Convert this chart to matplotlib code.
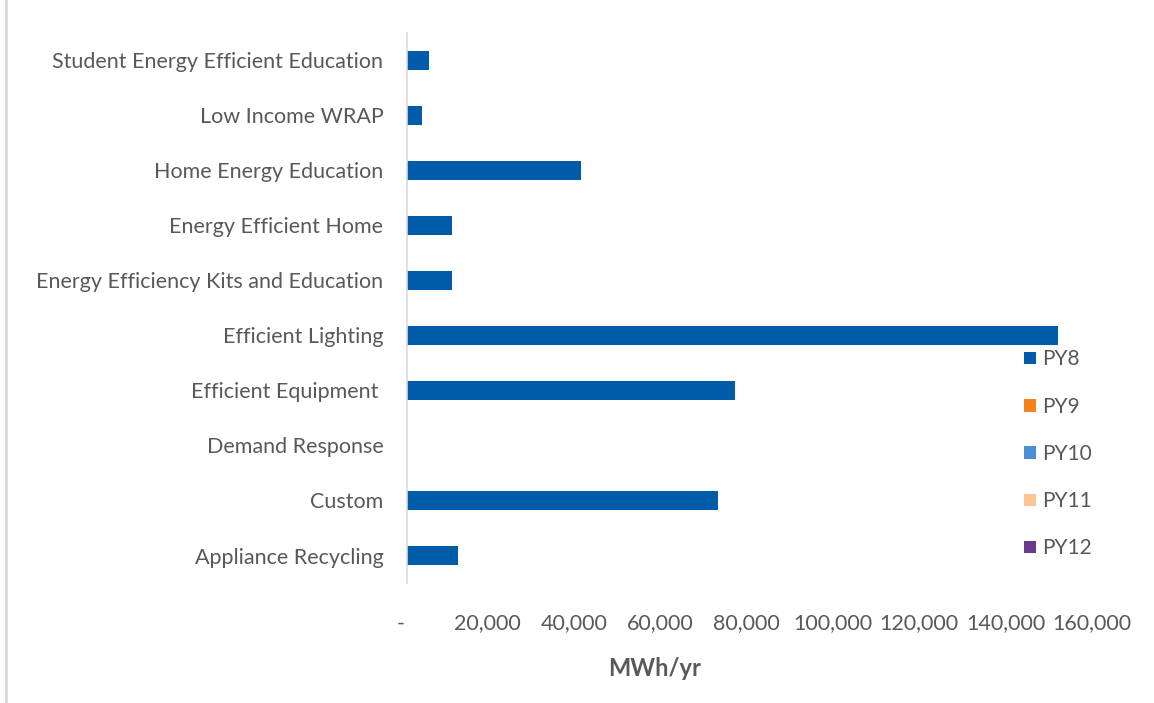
import numpy as np
import matplotlib
matplotlib.use("Agg")
import matplotlib.pyplot as plt
import matplotlib.transforms as mtransforms
from matplotlib.ticker import FuncFormatter

# programs, listed bottom to top as on the chart
programs = ["Appliance Recycling", "Custom", "Demand Response", "Efficient Equipment ",
            "Efficient Lighting", "Energy Efficiency Kits and Education",
            "Energy Efficient Home", "Home Energy Education", "Low Income WRAP",
            "Student Energy Efficient Education"]
series = ["PY8", "PY9", "PY10", "PY11", "PY12"]
py8 = [11900, 71900, 0, 76000, 150700, 10450, 10450, 40400, 3400, 5150]
py9 = [0] * 10
py10 = [0] * 10
py11 = [0] * 10
py12 = [0] * 10
colors = ["#005ca9", "#f4821f", "#4a90d2", "#ffc48f", "#6a3a8c"]
xticks = [0, 20000, 40000, 60000, 80000, 100000, 120000, 140000, 160000]

plt.rcParams['font.family'] = ['Lato', 'DejaVu Sans']
txt = "#595959"

fig = plt.figure(figsize=(11.54, 7.03), dpi=100)
ax = fig.add_axes([407 / 1154, 1 - 583 / 703, (1098 - 407) / 1154, (583 - 33) / 703])

y = np.arange(len(programs))
for name, vals, c in zip(series, [py8, py9, py10, py11, py12], colors):
    ax.barh(y, vals, height=0.35, color=c, label=name, linewidth=0)

ax.set_xlim(0, 160000)
ax.set_ylim(-0.5, len(programs) - 0.5)
ax.set_xticks(xticks)
ax.xaxis.set_major_formatter(FuncFormatter(lambda v, p: "-" if v == 0 else f"{v:,.0f}"))
ax.set_yticks(y)
ax.set_yticklabels(programs)
ax.tick_params(axis="x", length=0, pad=22, labelsize=15.5, labelcolor=txt)
ax.tick_params(axis="y", length=0, pad=17, labelsize=15.5, labelcolor=txt)
shift = mtransforms.ScaledTranslation(-6 / 100, 0, fig.dpi_scale_trans)
for lab in ax.get_xticklabels():
    lab.set_transform(lab.get_transform() + shift)

for s in ["top", "right", "bottom"]:
    ax.spines[s].set_visible(False)
ax.spines["left"].set_color("#d9d9d9")
ax.spines["left"].set_linewidth(1.2)

fig.text(655 / 1154, 1 - 668 / 703, "MWh/yr", ha="center", va="center",
         fontsize=17, fontweight="bold", color=txt)

fig.legend(loc="upper left", bbox_to_anchor=(1016 / 1154, 1 - 341 / 703), frameon=False,
           fontsize=15, labelcolor=txt, handlelength=0.55, handleheight=0.55,
           handletextpad=0.3, labelspacing=1.31, borderaxespad=0)

# outer frame line on the left edge
fig.add_artist(plt.Line2D([6 / 1154, 6 / 1154], [0, 1], transform=fig.transFigure,
                          color="#d9d9d9", linewidth=2))

fig.savefig("out.png", dpi=100)
